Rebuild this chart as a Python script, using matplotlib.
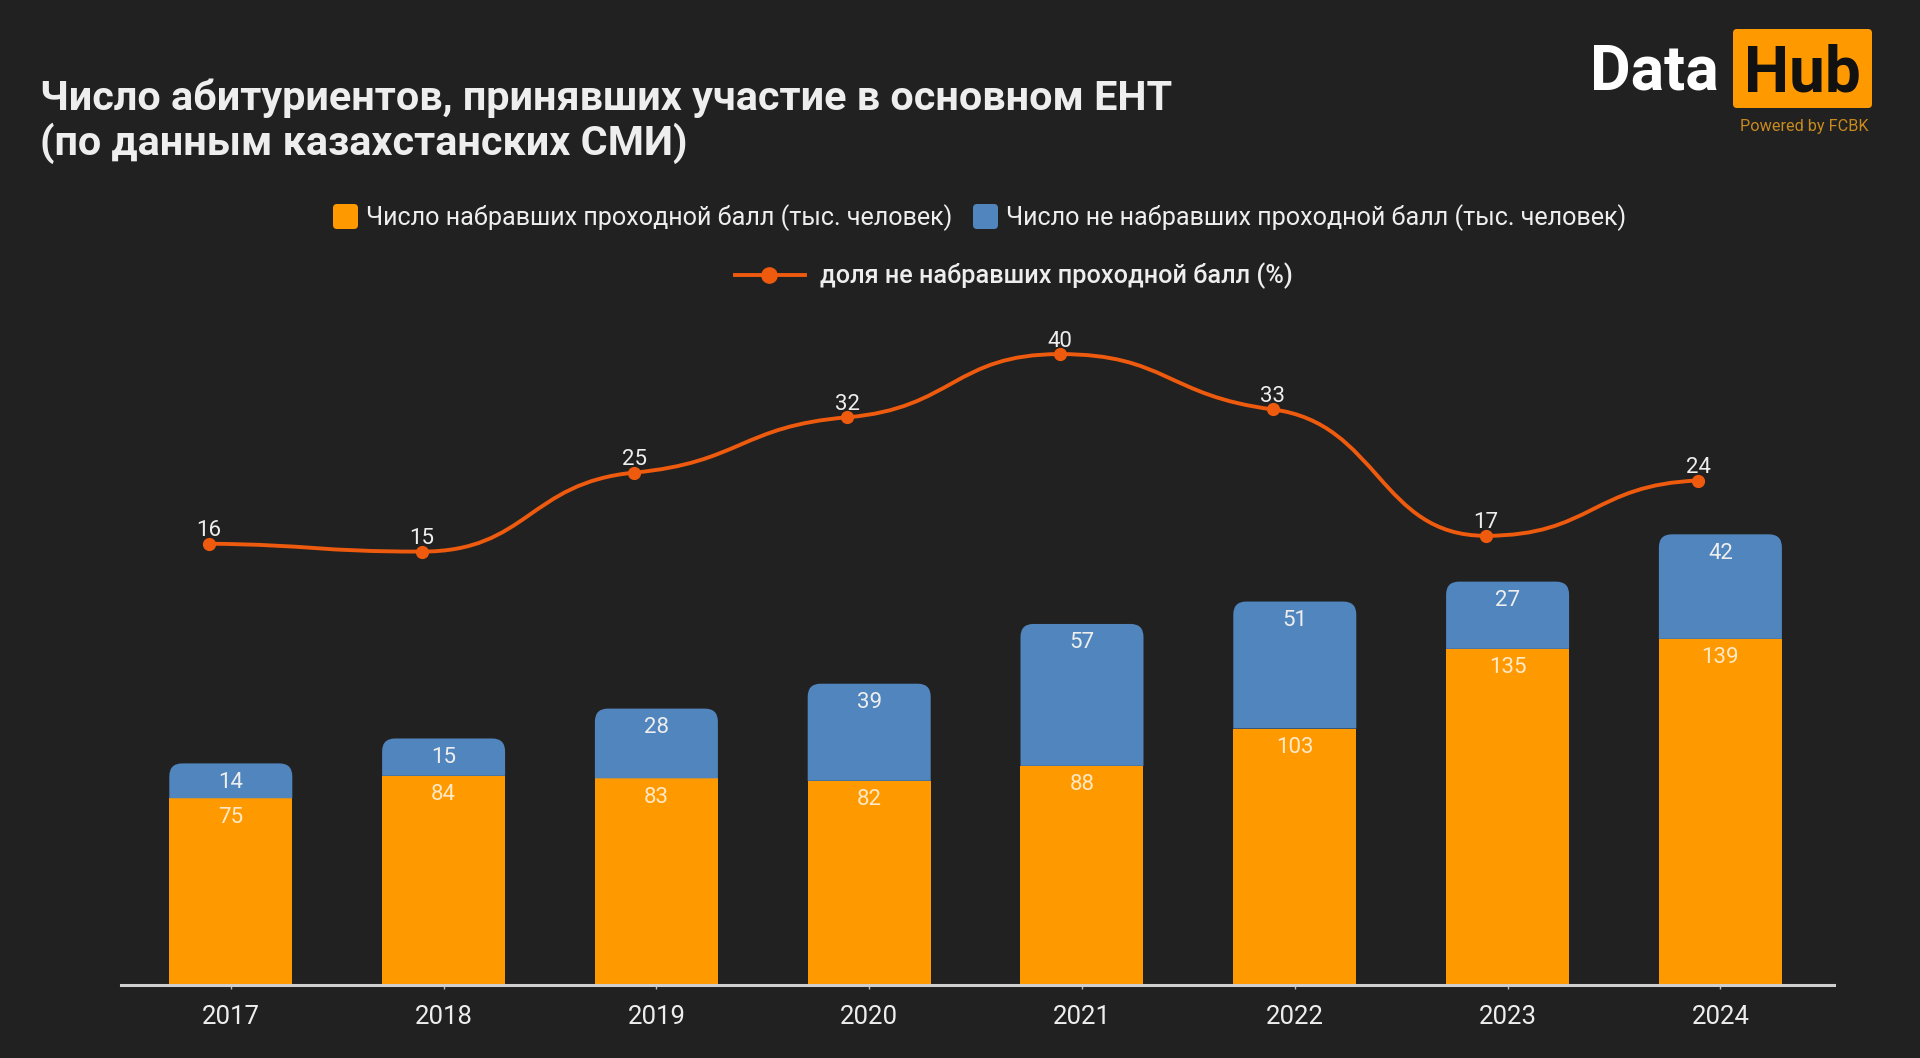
import numpy as np
import matplotlib
matplotlib.use('Agg')
import matplotlib.pyplot as plt
from matplotlib.path import Path
from matplotlib.patches import PathPatch, FancyBboxPatch

plt.rcParams['font.family'] = ['Roboto', 'DejaVu Sans']

YEARS = ['2017', '2018', '2019', '2020', '2021', '2022', '2023', '2024']
PASSED = [75, 84, 83, 82, 88, 103, 135, 139]
FAILED = [14, 15, 28, 39, 57, 51, 27, 42]
SHARE = [16, 15, 25, 32, 40, 33, 17, 24]

TITLE = 'Число абитуриентов, принявших участие в основном ЕНТ\n(по данным казахстанских СМИ)'
LEG_PASSED = 'Число набравших проходной балл (тыс. человек)'
LEG_FAILED = 'Число не набравших проходной балл (тыс. человек)'
LEG_SHARE = 'доля не набравших проходной балл (%)'

BG = '#212121'
ORANGE = '#FF9900'
BLUE = '#5085BD'
RED = '#EE5A0E'
TXT = '#EEEEEE'

W, H = 1920, 1058
BAND = 212.8
BAR_W = 123 / BAND
LINE_SHIFT = -22 / BAND   # точки линии сдвинуты влево от центра столбца


def px_axes(fig, left, top, right, bottom):
    return fig.add_axes([left / W, 1 - bottom / H, (right - left) / W, (bottom - top) / H])


def rounded_top(ax, x, y0, w, h, r_x, r_y, color):
    l, r, t = x - w / 2, x + w / 2, y0 + h
    verts = [(l, y0), (l, t - r_y), (l, t), (l + r_x, t), (r - r_x, t), (r, t), (r, t - r_y), (r, y0), (l, y0)]
    codes = [Path.MOVETO, Path.LINETO, Path.CURVE3, Path.CURVE3, Path.LINETO, Path.CURVE3, Path.CURVE3,
             Path.LINETO, Path.CLOSEPOLY]
    ax.add_patch(PathPatch(Path(verts, codes), facecolor=color, edgecolor='none', zorder=3))


def smooth_path(xs, ys, k=0.3, handle=0.5):
    # плавная кривая через точки, на экстремумах касательная горизонтальна
    n = len(xs)
    slopes = np.zeros(n)
    for i in range(1, n - 1):
        s0, s1 = ys[i] - ys[i - 1], ys[i + 1] - ys[i]
        if s0 * s1 > 0:
            slopes[i] = k * (s0 + s1) / 2
    slopes[-1] = 0.15 * (ys[-1] - ys[-2])
    slopes[0] = 0.3 * (ys[1] - ys[0])
    verts = [(xs[0], ys[0])]
    codes = [Path.MOVETO]
    for i in range(n - 1):
        verts += [(xs[i] + handle, ys[i] + slopes[i] * handle),
                  (xs[i + 1] - handle, ys[i + 1] - slopes[i + 1] * handle),
                  (xs[i + 1], ys[i + 1])]
        codes += [Path.CURVE4] * 3
    return Path(verts, codes)


fig = plt.figure(figsize=(W / 100, H / 100), dpi=100, facecolor=BG)

# столбцы
ax = px_axes(fig, 121, 250, 1834, 985)
ax.set_facecolor('none')
x = np.arange(len(YEARS))
ax.set_xlim((121 - 230.8) / BAND, (1834 - 230.8) / BAND)
ax.set_ylim(0, 735 / 2.49)
r_x = 13 / BAND
r_y = 13 / 2.49
ax.bar(x, PASSED, width=BAR_W, color=ORANGE, zorder=3)
for i in x:
    rounded_top(ax, i, PASSED[i], BAR_W, FAILED[i], r_x, r_y, BLUE)
    ax.annotate(str(PASSED[i]), (i, PASSED[i]), xytext=(0, -19), textcoords='offset pixels',
                ha='center', va='center', color='#FFE9C8', fontsize=16, zorder=5)
    ax.annotate(str(FAILED[i]), (i, PASSED[i] + FAILED[i]), xytext=(0, -19), textcoords='offset pixels',
                ha='center', va='center', color=TXT, fontsize=16, zorder=5)
for s in ['top', 'left', 'right']:
    ax.spines[s].set_visible(False)
ax.spines['bottom'].set_color('#CFCFCF')
ax.spines['bottom'].set_linewidth(2.2)
ax.spines['bottom'].set_zorder(6)
ax.set_yticks([])
ax.set_xticks(x)
ax.set_xticklabels(YEARS, fontsize=18.5, color=TXT)
ax.tick_params(axis='x', color='#BBBBBB', length=3, width=1, pad=11.5)

# линия доли
ax2 = ax.twinx()
ax2.set_ylim(16 - (985 - 543.7) / 7.9, 16 + (543.7 - 250) / 7.9)
ax2.axis('off')
xl = x + LINE_SHIFT
ax2.add_patch(PathPatch(smooth_path(xl, SHARE), facecolor='none', edgecolor=RED, lw=2.8, zorder=4))
ax2.plot(xl, SHARE, ls='none', marker='o', ms=8.5, color=RED, zorder=5)
for i in x:
    ax2.annotate(str(SHARE[i]), (xl[i], SHARE[i]), xytext=(0, 13), textcoords='offset pixels',
                 ha='center', va='center', color=TXT, fontsize=16, zorder=6)

# заголовок, легенда и логотип в пикселях
over = px_axes(fig, 0, 0, W, H)
over.set_xlim(0, W)
over.set_ylim(H, 0)
over.axis('off')
over.patch.set_alpha(0)

over.text(40, 121, TITLE, fontsize=29.8, fontweight='bold', color=TXT, ha='left', va='center', linespacing=1.14)


def swatch(x0, y0, size, color):
    over.add_patch(FancyBboxPatch((x0 + 4, y0 + 4), size - 8, size - 8, boxstyle='round,pad=4,rounding_size=4',
                                  facecolor=color, edgecolor='none'))


swatch(333, 204, 25, ORANGE)
over.text(366, 218, LEG_PASSED, fontsize=18.1, color=TXT, va='center', ha='left')
swatch(973, 204, 25, BLUE)
over.text(1006, 218, LEG_FAILED, fontsize=18.1, color=TXT, va='center', ha='left')
over.plot([735, 805], [275, 275], color=RED, lw=2.8)
over.plot([769], [275], marker='o', ms=11, color=RED)
over.text(820, 276, LEG_SHARE, fontsize=18.2, fontweight='medium', color=TXT, va='center', ha='left')

over.text(1590, 73, 'Data', fontsize=45, fontweight='bold', color='white', va='center', ha='left')
over.add_patch(FancyBboxPatch((1737, 33), 131, 71, boxstyle='round,pad=4,rounding_size=4',
                              facecolor=ORANGE, edgecolor='none'))
over.text(1802, 74, 'Hub', fontsize=46, fontweight='bold', color='#111111', va='center', ha='center')
over.text(1869, 126, 'Powered by FCBK', fontsize=11.7, color='#C98A1E', va='center', ha='right')

fig.savefig('out.png', dpi=100, facecolor=BG)
